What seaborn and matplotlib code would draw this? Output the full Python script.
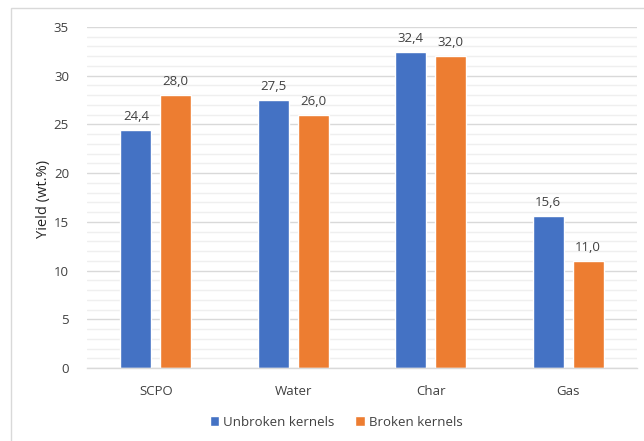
import matplotlib
matplotlib.use("Agg")
import matplotlib.pyplot as plt
from matplotlib.patches import Rectangle
from matplotlib.ticker import MultipleLocator
import pandas as pd
import seaborn as sns

categories = ["SCPO", "Water", "Char", "Gas"]
series_names = ["Unbroken kernels", "Broken kernels"]
unbroken = [24.4, 27.5, 32.4, 15.6]
broken = [28.0, 26.0, 32.0, 11.0]
colors = ["#4472C4", "#ED7D31"]

df = pd.DataFrame({
    "Product": categories * 2,
    "Kernels": [series_names[0]] * len(categories) + [series_names[1]] * len(categories),
    "Yield": unbroken + broken,
})

sns.set_theme(style="white")
plt.rcParams["font.family"] = ["Open Sans", "DejaVu Sans"]
text_color = "#404040"

fig = plt.figure(figsize=(6.44, 4.41), dpi=100)
ax = fig.add_axes([87 / 644, 1 - 368 / 441, 550 / 644, 341 / 441])

sns.barplot(data=df, x="Product", y="Yield", hue="Kernels", order=categories,
            hue_order=series_names, palette=colors, width=0.58, gap=0.22,
            saturation=1, ax=ax, errorbar=None, legend=True)

ax.set_ylim(0, 35)
ax.set_xlim(-0.5, len(categories) - 0.5)
ax.yaxis.set_major_locator(MultipleLocator(5))
ax.yaxis.set_minor_locator(MultipleLocator(1))
ax.grid(which="minor", axis="y", color="#EFEFEF", linewidth=1.0)
ax.grid(which="major", axis="y", color="#D9D9D9", linewidth=1.0)
ax.set_axisbelow(True)
for s in ["top", "right", "left"]:
    ax.spines[s].set_visible(False)
ax.spines["bottom"].set_color("#D9D9D9")
ax.spines["bottom"].set_linewidth(1.0)
ax.tick_params(axis="both", which="both", length=0, colors=text_color, labelsize=9.5)
ax.tick_params(axis="y", pad=13)
ax.tick_params(axis="x", pad=12)
ax.set_xlabel("")
ax.set_ylabel("")
fig.text(44 / 644, 1 - 199 / 441, "Yield (wt.%)", rotation=90, ha="center", va="center",
         color="#262626", fontsize=10.5, fontweight="medium")

for container in ax.containers:
    ax.bar_label(container, labels=[f"{v:.1f}".replace(".", ",") for v in container.datavalues],
                 padding=5, color=text_color, fontsize=9.5)

handles, labels = ax.get_legend_handles_labels()
ax.legend(handles, labels, loc="center", bbox_to_anchor=(336 / 644, 1 - 422 / 441),
          bbox_transform=fig.transFigure, ncol=2,
          frameon=False, fontsize=9.5, handlelength=0.7, handleheight=0.7,
          handletextpad=0.3, columnspacing=1.6, labelcolor=text_color)

# chart-area border
fig.patches.append(Rectangle((11 / 644, -0.01), 1.0, 1 - 8 / 441 + 0.01,
                             transform=fig.transFigure, fill=False,
                             edgecolor="#D9D9D9", linewidth=1.0))

fig.savefig("out.png", dpi=100)
